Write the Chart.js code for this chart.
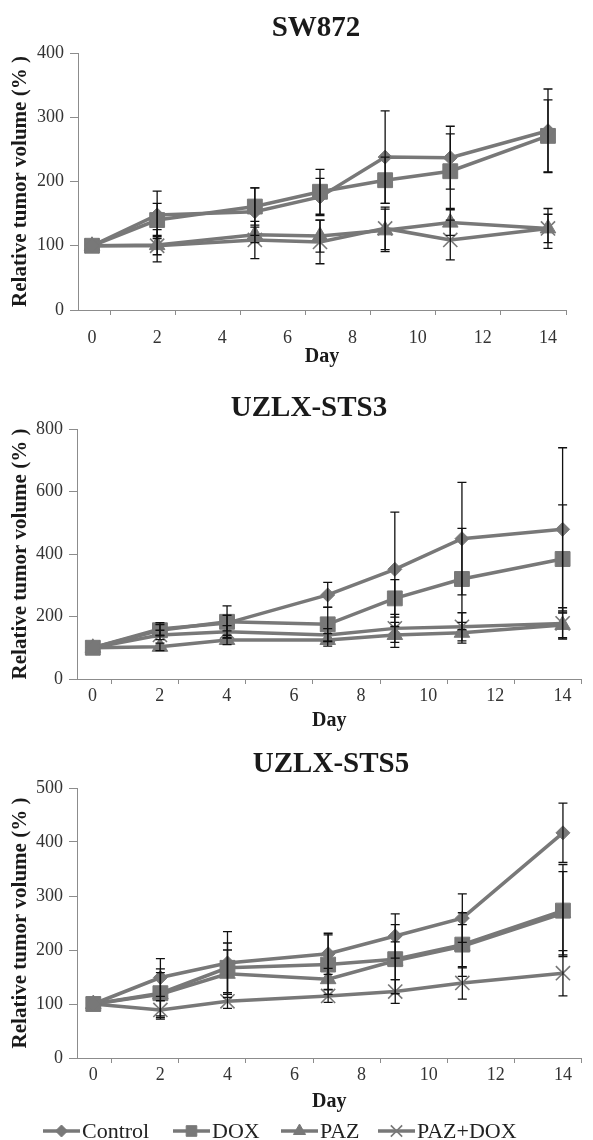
<!DOCTYPE html>
<html>
<head>
<meta charset="utf-8">
<script src="https://cdn.jsdelivr.net/npm/chart.js@4.4.1/dist/chart.umd.min.js"></script>
<style>
  html, body { margin: 0; padding: 0; background: #fff; }
  body { width: 593px; height: 1140px; position: relative; overflow: hidden; }
  canvas { position: absolute; left: 0; }
</style>
</head>
<body>
<canvas id="chartSW872" width="593" height="375" style="top:0;width:593px;height:375px"></canvas>
<canvas id="chartSTS3" width="593" height="375" style="top:375px;width:593px;height:375px"></canvas>
<canvas id="chartSTS5" width="593" height="395" style="top:745px;width:593px;height:395px"></canvas>
<script>
// series and shared tick labels
const seriesNames = ['Control', 'DOX', 'PAZ', 'PAZ+DOX'];
const dayTicks = [0, 2, 4, 6, 8, 10, 12, 14];

// SW872
const sw872Days = [0, 2, 5, 7, 9, 11, 14];
const sw872Control = [100, 148, 153, 176, 238, 237, 279];
const sw872Dox = [100, 140, 161, 184, 202, 216, 271];
const sw872Paz = [100, 101, 117, 115, 124, 136, 127];
const sw872PazDox = [100, 100, 109, 106, 127, 109, 127];
const sw872ControlErr = [0, 37, 37, 29, 72, 49, 65];
const sw872DoxErr = [0, 26, 29, 35, 36, 58, 56];
const sw872PazErr = [0, 15, 12, 25, 33, 20, 22];
const sw872PazDoxErr = [0, 25, 29, 34, 33, 31, 31];

// UZLX-STS3
const sts3Days = [0, 2, 4, 7, 9, 11, 14];
const sts3Control = [100, 160, 179, 269, 351, 449, 479];
const sts3Dox = [100, 156, 183, 175, 258, 320, 384];
const sts3Paz = [100, 103, 125, 125, 141, 148, 173];
const sts3PazDox = [100, 141, 151, 141, 162, 167, 178];
const sts3ControlErr = [0, 20, 25, 40, 183, 180, 261];
const sts3DoxErr = [0, 18, 51, 55, 60, 162, 173];
const sts3PazErr = [0, 12, 15, 20, 40, 33, 41];
const sts3PazDoxErr = [0, 15, 20, 20, 45, 45, 50];

// UZLX-STS5
const sts5Days = [0, 2, 4, 7, 9, 11, 14];
const sts5Control = [100, 149, 176, 193, 226, 259, 417];
const sts5Dox = [100, 120, 167, 173, 183, 210, 273];
const sts5Paz = [100, 118, 156, 146, 180, 207, 268];
const sts5PazDox = [100, 89, 105, 115, 123, 139, 157];
const sts5ControlErr = [0, 35, 58, 38, 41, 45, 55];
const sts5DoxErr = [0, 45, 46, 55, 64, 59, 85];
const sts5PazErr = [0, 40, 44, 20, 35, 40, 77];
const sts5PazDoxErr = [0, 17, 13, 12, 22, 30, 42];

const LINE_GRAY = '#787878';
const AXIS_GRAY = '#8c8c8c';
const TEXT_DARK = '#1a1a1a';
const SERIF = '"Liberation Serif", "DejaVu Serif", serif';

const markerStyles = ['rectRot', 'rect', 'triangle', 'crossRot'];
const markerRadius = [7, 10.5, 9, 10];
const markerBorder = [1, 1, 1, 1.6];
const legendRadius = [6, 7.5, 7, 8];

// error bars drawn on top of the lines
const errorBarPlugin = {
    id: 'errorBars',
    afterDatasetsDraw(chart) {
        const { ctx, scales: { x, y } } = chart;
        ctx.save();
        ctx.strokeStyle = '#111';
        ctx.lineWidth = 1.3;
        chart.data.datasets.forEach(function(ds) {
            ds.data.forEach(function(pt, j) {
                const e = ds.errors[j];
                if (!e) return;
                const px = x.getPixelForValue(pt.x);
                const top = y.getPixelForValue(pt.y + e);
                const bot = y.getPixelForValue(pt.y - e);
                ctx.beginPath();
                ctx.moveTo(px, top); ctx.lineTo(px, bot);
                ctx.moveTo(px - 4.5, top); ctx.lineTo(px + 4.5, top);
                ctx.moveTo(px - 4.5, bot); ctx.lineTo(px + 4.5, bot);
                ctx.stroke();
            });
        });
        ctx.restore();
    }
};

// panel title (placed freely, like the original figure)
const panelTitlePlugin = {
    id: 'panelTitle',
    afterDraw(chart, args, opts) {
        const ctx = chart.ctx;
        ctx.save();
        ctx.font = 'bold 29px ' + SERIF;
        ctx.fillStyle = TEXT_DARK;
        ctx.textAlign = 'center';
        ctx.textBaseline = 'middle';
        ctx.fillText(opts.text, opts.x, opts.y);
        ctx.restore();
    }
};

// legend with line + marker, only under the last panel
const lineLegendPlugin = {
    id: 'lineLegend',
    afterDraw(chart, args, opts) {
        const ctx = chart.ctx;
        ctx.save();
        chart.data.datasets.forEach(function(ds, i) {
            const x0 = opts.starts[i];
            const y = opts.y;
            ctx.strokeStyle = LINE_GRAY;
            ctx.fillStyle = LINE_GRAY;
            ctx.lineWidth = 3.5;
            ctx.beginPath();
            ctx.moveTo(x0, y); ctx.lineTo(x0 + 37, y);
            ctx.stroke();
            ctx.lineWidth = markerBorder[i];
            Chart.helpers.drawPoint(ctx, {
                pointStyle: markerStyles[i], rotation: 0,
                radius: legendRadius[i], borderWidth: markerBorder[i]
            }, x0 + 18.5, y);
            ctx.fillStyle = '#222';
            ctx.font = '22px ' + SERIF;
            ctx.textAlign = 'left';
            ctx.textBaseline = 'middle';
            ctx.fillText(ds.label, x0 + 39, y + 1);
        });
        ctx.restore();
    }
};

function makeChart(canvasId, p) {
    const datasets = seriesNames.map(function(name, i) {
        return {
            label: name,
            data: p.days.map((d, j) => ({ x: d, y: p.values[i][j] })),
            errors: p.errors[i],
            borderColor: LINE_GRAY,
            backgroundColor: LINE_GRAY,
            pointBackgroundColor: LINE_GRAY,
            pointBorderColor: LINE_GRAY,
            borderWidth: 3.5,
            pointStyle: markerStyles[i],
            pointRadius: markerRadius[i],
            pointBorderWidth: markerBorder[i],
            tension: 0
        };
    });

    return new Chart(document.getElementById(canvasId), {
        type: 'line',
        data: { datasets: datasets },
        options: {
            responsive: false,
            animation: false,
            events: [],
            layout: { padding: { left: 0, right: p.padRight, top: p.padTop, bottom: p.padBottom } },
            plugins: {
                legend: { display: false },
                tooltip: { enabled: false },
                panelTitle: { text: p.title, x: p.titleX, y: p.titleY },
                lineLegend: p.legend || false
            },
            scales: {
                x: {
                    type: 'linear',
                    min: p.xMin,
                    max: p.xMax,
                    afterBuildTicks: function(s) {
                        s.ticks = dayTicks.map(v => ({ value: v + p.tickShift }));
                    },
                    afterFit: function(s) {
                        s.height = p.xAxisHeight;
                        s.paddingLeft = 0;
                        s.paddingRight = 0;
                    },
                    ticks: {
                        callback: (v, idx) => dayTicks[idx],
                        labelOffset: p.labelOffset,
                        padding: p.xTickPad,
                        autoSkip: false,
                        maxRotation: 0,
                        color: '#333',
                        font: { family: SERIF, size: 18 }
                    },
                    grid: { drawOnChartArea: false, drawTicks: true, tickLength: 5, color: AXIS_GRAY },
                    border: { color: AXIS_GRAY, width: 1 },
                    title: {
                        display: true,
                        text: 'Day',
                        color: TEXT_DARK,
                        font: { family: SERIF, size: 20, weight: 'bold' },
                        padding: { top: 0, bottom: p.dayPad }
                    }
                },
                y: {
                    min: 0,
                    max: p.yMax,
                    afterFit: function(s) {
                        s.width = p.yAxisWidth;
                        s.paddingTop = 0;
                        s.paddingBottom = 0;
                    },
                    ticks: {
                        stepSize: p.yStep,
                        padding: 6,
                        color: '#333',
                        font: { family: SERIF, size: 18 }
                    },
                    grid: { drawOnChartArea: false, drawTicks: true, tickLength: 8, color: AXIS_GRAY },
                    border: { color: AXIS_GRAY, width: 1 },
                    title: {
                        display: true,
                        text: 'Relative tumor volume (% )',
                        color: TEXT_DARK,
                        font: { family: SERIF, size: 21, weight: 'bold' },
                        padding: { top: 8, bottom: 0 }
                    }
                }
            }
        },
        plugins: [errorBarPlugin, panelTitlePlugin, lineLegendPlugin]
    });
}

document.addEventListener('DOMContentLoaded', function() {
    makeChart('chartSW872', {
        title: 'SW872', titleX: 316, titleY: 29,
        days: sw872Days,
        values: [sw872Control, sw872Dox, sw872Paz, sw872PazDox],
        errors: [sw872ControlErr, sw872DoxErr, sw872PazErr, sw872PazDoxErr],
        yMax: 400, yStep: 100,
        xMin: -0.43, xMax: 14.553, tickShift: 0.553, labelOffset: -18,
        padTop: 53, padRight: 27, padBottom: 0,
        xAxisHeight: 65, yAxisWidth: 78, xTickPad: 12, dayPad: 6
    });

    makeChart('chartSTS3', {
        title: 'UZLX-STS3', titleX: 309, titleY: 34,
        days: sts3Days,
        values: [sts3Control, sts3Dox, sts3Paz, sts3PazDox],
        errors: [sts3ControlErr, sts3DoxErr, sts3PazErr, sts3PazDoxErr],
        yMax: 800, yStep: 200,
        xMin: -0.4716, xMax: 14.56, tickShift: 0.56, labelOffset: -19,
        padTop: 54, padRight: 6, padBottom: 0,
        xAxisHeight: 71, yAxisWidth: 77, xTickPad: 1, dayPad: 17
    });

    makeChart('chartSTS5', {
        title: 'UZLX-STS5', titleX: 331, titleY: 20,
        days: sts5Days,
        values: [sts5Control, sts5Dox, sts5Paz, sts5PazDox],
        errors: [sts5ControlErr, sts5DoxErr, sts5PazErr, sts5PazDoxErr],
        yMax: 500, yStep: 100,
        xMin: -0.486, xMax: 14.55, tickShift: 0.55, labelOffset: -18.5,
        padTop: 43, padRight: 11.5, padBottom: 20,
        xAxisHeight: 62, yAxisWidth: 77, xTickPad: 1, dayPad: 6,
        legend: { y: 386, starts: [43, 173, 281, 378] }
    });
});
</script>
</body>
</html>
